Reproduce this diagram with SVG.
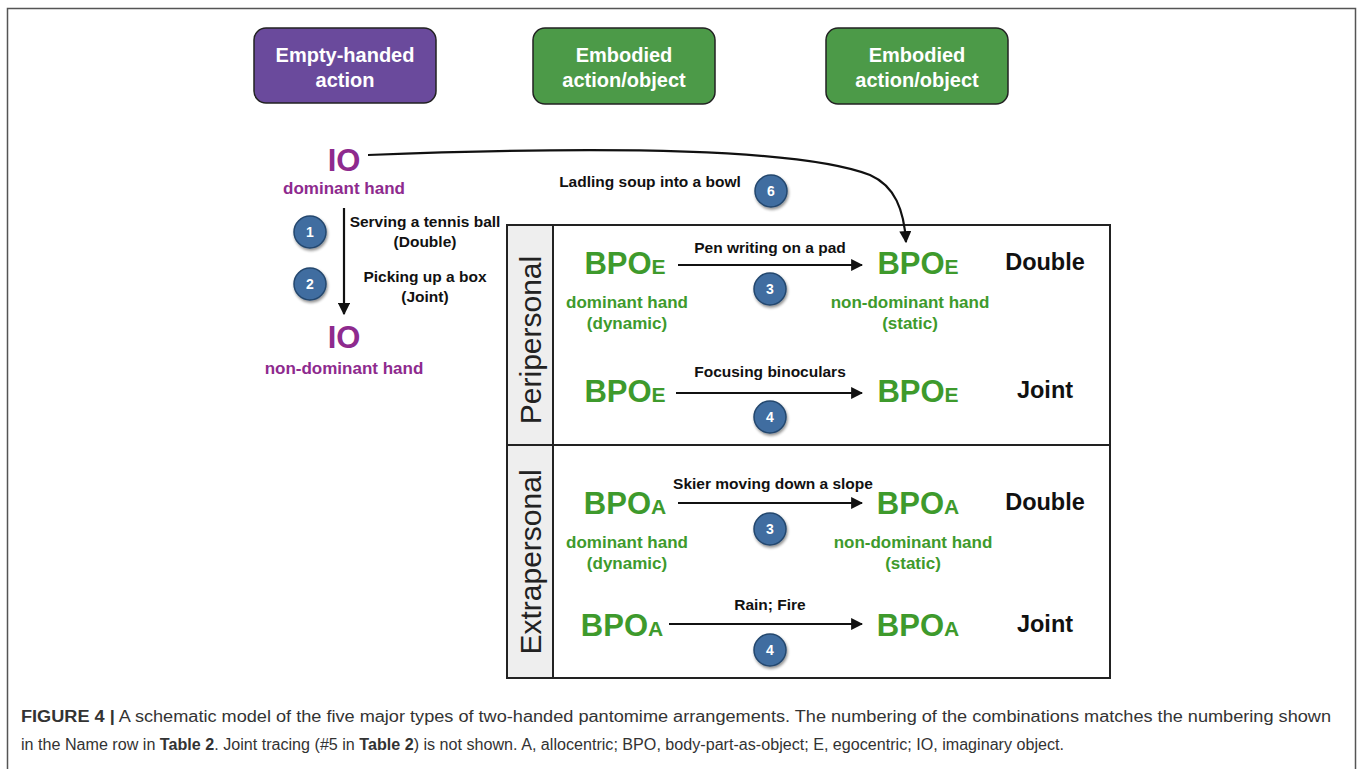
<svg xmlns="http://www.w3.org/2000/svg" width="1358" height="769" viewBox="0 0 1358 769">
  <style>
    .box-txt { font-family: "Liberation Sans", Arial, sans-serif; font-weight: bold; font-size: 20px; fill: #ffffff; text-anchor: middle; }
    .io { font-family: "Liberation Sans", Arial, sans-serif; font-weight: bold; font-size: 31px; fill: #8e2a8e; text-anchor: middle; }
    .io-sub { font-family: "Liberation Sans", Arial, sans-serif; font-weight: bold; font-size: 17px; fill: #8e2a8e; text-anchor: middle; }
    .lbl { font-family: "Liberation Sans", Arial, sans-serif; font-weight: bold; font-size: 15.5px; fill: #111111; text-anchor: middle; }
    .bpo { font-family: "Liberation Sans", Arial, sans-serif; font-weight: bold; font-size: 31px; fill: #3e9a2c; text-anchor: middle; }
    .hand { font-family: "Liberation Sans", Arial, sans-serif; font-weight: bold; font-size: 17px; fill: #3e9a2c; text-anchor: middle; }
    .kind { font-family: "Liberation Sans", Arial, sans-serif; font-weight: bold; font-size: 23.5px; fill: #111111; text-anchor: middle; }
    .side { font-family: "Liberation Sans", Arial, sans-serif; font-size: 30px; fill: #222222; text-anchor: middle; }
    .num { font-family: "Liberation Sans", Arial, sans-serif; font-weight: bold; font-size: 14px; fill: #ffffff; text-anchor: middle; }
    .badge { fill: #3f6da0; stroke: #24476e; stroke-width: 1.5; filter: url(#shadow); }
    .cap { font-family: "Liberation Sans Narrow", "Liberation Sans", Arial, sans-serif; font-size: 16px; fill: #333333; }
    .edge { fill: none; stroke: #111111; stroke-width: 2.2; marker-end: url(#arrow); }
  </style>
  <defs>
    <marker id="arrow" viewBox="0 0 10 10" refX="9" refY="5" markerWidth="5.5" markerHeight="5.5" orient="auto" markerUnits="strokeWidth">
      <path d="M0,0 L10,5 L0,10 z" fill="#111111"/>
    </marker>
    <filter id="shadow" x="-30%" y="-30%" width="170%" height="170%">
      <feGaussianBlur in="SourceAlpha" stdDeviation="1.5"/>
      <feOffset dx="1" dy="2" result="o"/>
      <feComponentTransfer><feFuncA type="linear" slope="0.45"/></feComponentTransfer>
      <feMerge><feMergeNode/><feMergeNode in="SourceGraphic"/></feMerge>
    </filter>
  </defs>

  <rect width="1358" height="769" fill="#ffffff"/>
  <!-- outer frame -->
  <path d="M7.5,790 V8.5 H1355.5 V790" fill="none" stroke="#555555" stroke-width="1.5"/>

  <!-- header boxes -->
  <g id="box-empty">
    <rect x="254" y="28" width="182" height="75" rx="12" fill="#6a4a9c" stroke="#222222" stroke-width="1.5"/>
    <text class="box-txt" x="345" y="62">Empty-handed</text>
    <text class="box-txt" x="345" y="87">action</text>
  </g>
  <g id="box-embodied-1">
    <rect x="533" y="28" width="182" height="76" rx="12" fill="#4c9a48" stroke="#222222" stroke-width="1.5"/>
    <text class="box-txt" x="624" y="62">Embodied</text>
    <text class="box-txt" x="624" y="87">action/object</text>
  </g>
  <g id="box-embodied-2">
    <rect x="826" y="28" width="182" height="76" rx="12" fill="#4c9a48" stroke="#222222" stroke-width="1.5"/>
    <text class="box-txt" x="917" y="62">Embodied</text>
    <text class="box-txt" x="917" y="87">action/object</text>
  </g>

  <!-- table -->
  <g id="table">
    <rect x="507" y="225" width="603" height="453" fill="#ffffff" stroke="#222222" stroke-width="2"/>
    <rect x="508" y="226" width="45" height="451" fill="#eeeeee"/>
    <line x1="553" y1="225" x2="553" y2="678" stroke="#222222" stroke-width="2"/>
    <line x1="507" y1="445" x2="1110" y2="445" stroke="#222222" stroke-width="2"/>
    <text class="side" transform="translate(541,340) rotate(-90)">Peripersonal</text>
    <text class="side" transform="translate(541,562) rotate(-90)">Extrapersonal</text>
  </g>

  <!-- imaginary-object nodes -->
  <g id="io-dominant">
    <text class="io" x="344" y="171">IO</text>
    <text class="io-sub" x="344" y="194">dominant hand</text>
  </g>
  <g id="io-nondominant">
    <text class="io" x="344" y="348">IO</text>
    <text class="io-sub" x="344" y="374">non-dominant hand</text>
  </g>

  <!-- body-part-as-object nodes -->
  <g id="bpo-e-1-left">
    <text class="bpo" x="625" y="274">BPO<tspan font-size="21">E</tspan></text>
    <text class="hand" x="627" y="308">dominant hand</text>
    <text class="hand" x="627" y="329">(dynamic)</text>
  </g>
  <g id="bpo-e-1-right">
    <text class="bpo" x="918" y="274">BPO<tspan font-size="21">E</tspan></text>
    <text class="hand" x="910" y="308">non-dominant hand</text>
    <text class="hand" x="910" y="329">(static)</text>
  </g>
  <g id="bpo-e-2-left"><text class="bpo" x="625" y="402">BPO<tspan font-size="21">E</tspan></text></g>
  <g id="bpo-e-2-right"><text class="bpo" x="918" y="402">BPO<tspan font-size="21">E</tspan></text></g>
  <g id="bpo-a-1-left">
    <text class="bpo" x="625" y="514">BPO<tspan font-size="21">A</tspan></text>
    <text class="hand" x="627" y="548">dominant hand</text>
    <text class="hand" x="627" y="569">(dynamic)</text>
  </g>
  <g id="bpo-a-1-right">
    <text class="bpo" x="918" y="514">BPO<tspan font-size="21">A</tspan></text>
    <text class="hand" x="913" y="548">non-dominant hand</text>
    <text class="hand" x="913" y="569">(static)</text>
  </g>
  <g id="bpo-a-2-left"><text class="bpo" x="622" y="636">BPO<tspan font-size="21">A</tspan></text></g>
  <g id="bpo-a-2-right"><text class="bpo" x="918" y="636">BPO<tspan font-size="21">A</tspan></text></g>

  <!-- row kinds -->
  <g id="kind-labels">
    <text class="kind" x="1045" y="270">Double</text>
    <text class="kind" x="1045" y="398">Joint</text>
    <text class="kind" x="1045" y="510">Double</text>
    <text class="kind" x="1045" y="632">Joint</text>
  </g>

  <!-- connectors -->
  <g id="connectors">
    <path class="edge" d="M344,208 V314"/>
    <path class="edge" d="M368,155 C600,146 800,148 870,175 C895,186 904,210 906,242"/>
    <path class="edge" d="M678,265 H862"/>
    <path class="edge" d="M676,393 H862"/>
    <path class="edge" d="M678,503 H862"/>
    <path class="edge" d="M669,624 H862"/>
  </g>

  <!-- connector labels -->
  <g id="edge-labels">
    <text class="lbl" x="425" y="227">Serving a tennis ball</text>
    <text class="lbl" x="425" y="247">(Double)</text>
    <text class="lbl" x="425" y="282">Picking up a box</text>
    <text class="lbl" x="425" y="302">(Joint)</text>
    <text class="lbl" x="650" y="187">Ladling soup into a bowl</text>
    <text class="lbl" x="770" y="253">Pen writing on a pad</text>
    <text class="lbl" x="770" y="377">Focusing binoculars</text>
    <text class="lbl" x="773" y="489">Skier moving down a slope</text>
    <text class="lbl" x="770" y="610">Rain; Fire</text>
  </g>

  <!-- numbered badges -->
  <g id="badges">
    <circle class="badge" cx="310" cy="232" r="16"/><text class="num" x="310" y="237">1</text>
    <circle class="badge" cx="310" cy="284" r="16"/><text class="num" x="310" y="289">2</text>
    <circle class="badge" cx="771" cy="191" r="16"/><text class="num" x="771" y="196">6</text>
    <circle class="badge" cx="770" cy="289" r="16"/><text class="num" x="770" y="294">3</text>
    <circle class="badge" cx="770" cy="417" r="16"/><text class="num" x="770" y="422">4</text>
    <circle class="badge" cx="770" cy="529" r="16"/><text class="num" x="770" y="534">3</text>
    <circle class="badge" cx="770" cy="650" r="16"/><text class="num" x="770" y="655">4</text>
  </g>

  <!-- caption -->
  <g id="caption">
    <text class="cap" x="21" y="722" textLength="1310" lengthAdjust="spacingAndGlyphs"><tspan font-weight="bold" font-family="Liberation Sans, Arial, sans-serif">FIGURE 4 |</tspan> A schematic model of the five major types of two-handed pantomime arrangements. The numbering of the combinations matches the numbering shown</text>
    <text class="cap" x="21" y="750" textLength="1043" lengthAdjust="spacingAndGlyphs">in the Name row in <tspan font-weight="bold">Table 2</tspan>. Joint tracing (#5 in <tspan font-weight="bold">Table 2</tspan>) is not shown. A, allocentric; BPO, body-part-as-object; E, egocentric; IO, imaginary object.</text>
  </g>
</svg>
